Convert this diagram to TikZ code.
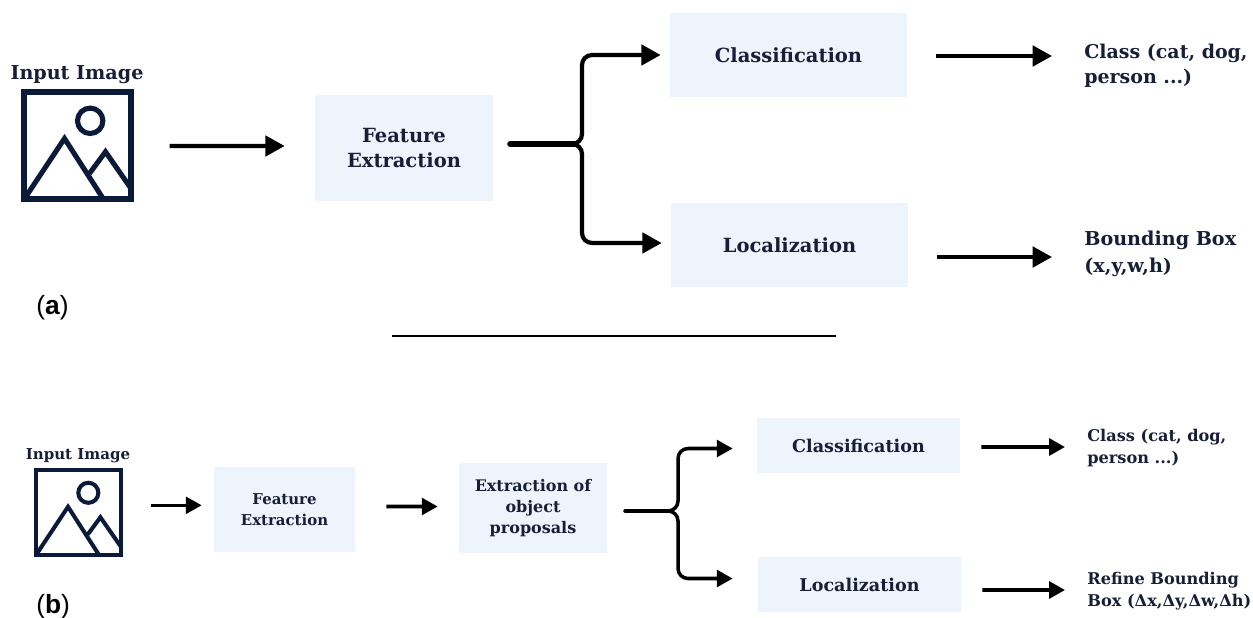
\documentclass[tikz,border=0pt]{standalone}
\usepackage{fontspec}
\usepackage{tikz}
\usepackage{xcolor}
\usetikzlibrary{arrows.meta,calc}
\setmainfont{DejaVu Serif}
\setsansfont{Liberation Sans}
\definecolor{boxblue}{HTML}{EEF4FB}
\definecolor{inkblue}{HTML}{161F36}
\definecolor{iconblue}{HTML}{0C1A3A}
\newcommand{\fsize}[2]{\fontsize{#1}{#2}\selectfont\bfseries}

\tikzset{
	mountains/.pic={
		\draw (12.7,-24.7) circle (12.7);
		\draw (-53.3,53.7) -- (-13,-7) -- (26,53.7);
		\draw (12,28) -- (28,6.3) -- (53.5,43);
	}
}

\begin{document}
\begin{tikzpicture}[x=0.02cm,y=-0.02cm]
	\useasboundingbox (0,0) rectangle (1253,618);
	\tikzstyle{box}=[fill=boxblue,inner sep=0pt,align=center,text=inkblue]
	\tikzstyle{result}=[anchor=west,inner sep=0pt,align=left,text=inkblue]
	\tikzstyle{caption}=[anchor=west,inner sep=0pt,font=\sffamily\fontsize{15}{18}\selectfont]
	\tikzstyle{bigarrow}=[line width=2.4pt,-{Triangle[length=11pt,width=11.5pt]}]
	\tikzstyle{smallarrow}=[line width=2pt,-{Triangle[length=9pt,width=9.5pt]}]

	% upper pipeline
	\node[draw=iconblue,line width=2.9pt,minimum size=2.14cm,inner sep=0pt] (imga) at (77.5,145.5) {};
	\pic[iconblue,line width=2.9pt] at (imga.center) {mountains};
	\node[anchor=south,inner sep=0pt,text=inkblue,font=\fsize{10.9}{14}] (inputa) at (77,84) {Input Image};
	\node[box,minimum width=3.56cm,minimum height=2.12cm,font=\fsize{11.1}{14.5}] (feata) at (404,148) {Feature\\Extraction};
	\node[box,minimum width=4.74cm,minimum height=1.68cm,font=\fsize{11.1}{14.5}] (clsa) at (788.5,55) {Classification};
	\node[box,minimum width=4.74cm,minimum height=1.68cm,font=\fsize{11.1}{14.5}] (loca) at (789.5,245) {Localization};
	\node[result,font=\fsize{10.8}{14}] (clsouta) at (1084,66) {Class (cat, dog,\\person ...)};
	\node[result,font=\fsize{10.9}{15}] (locouta) at (1084,254) {Bounding Box\\(x,y,w,h)};
	\node[caption] (capa) at (36,308) {(\textbf{a})};

	\draw[bigarrow] ($(imga.east)+(36,0.5)$) -- ($(feata.west)+(-30,-2)$);
	\coordinate (splita) at (582,144);
	\draw[line width=3.6pt,line cap=round] ($(feata.east)+(17,-4)$) -- ($(splita)+(-6,0)$);
	\draw[bigarrow,rounded corners=0.2cm] ($(splita)+(-10,0)$) -- (splita) -- (splita |- clsa) -- ($(clsa.west)+(-9,0)$);
	\draw[bigarrow,rounded corners=0.2cm] ($(splita)+(-10,0)$) -- (splita) -- ($(splita |- loca)+(0,-2)$) -- ($(loca.west)+(-9,-2)$);
	\draw[bigarrow] ($(clsa.east)+(29,1)$) -- ($(clsouta.west)+(-32,-10)$);
	\draw[bigarrow] ($(loca.east)+(29,12)$) -- ($(locouta.west)+(-32,3)$);

	% divider
	\coordinate (rulel) at (392,336);
	\coordinate (ruler) at (836,336);
	\draw[line width=1.1pt] (rulel) -- (ruler);

	% lower pipeline
	\node[draw=iconblue,line width=2.3pt,minimum size=1.69cm,inner sep=0pt] (imgb) at (78.3,512.3) {};
	\pic[iconblue,line width=2.3pt,scale=0.79] at (imgb.center) {mountains};
	\node[anchor=south,inner sep=0pt,text=inkblue,font=\fsize{8.55}{12}] (inputb) at (78,463) {Input Image};
	\node[box,minimum width=2.82cm,minimum height=1.7cm,font=\fsize{8.5}{12}] (featb) at (284.5,509.5) {Feature\\Extraction};
	\node[box,minimum width=2.96cm,minimum height=1.8cm,font=\fsize{9.1}{12}] (propb) at (533,508) {Extraction of\\object\\proposals};
	\node[box,minimum width=4.06cm,minimum height=1.1cm,font=\fsize{10}{12}] (clsb) at (858.5,445.5) {Classification};
	\node[box,minimum width=4.06cm,minimum height=1.1cm,font=\fsize{10}{12}] (locb) at (859.5,584.5) {Localization};
	\node[result,font=\fsize{9.2}{12.5}] (clsoutb) at (1087,448) {Class (cat, dog,\\person ...)};
	\node[result,font=\fsize{9.2}{12.5}] (locoutb) at (1087,591.5) {Refine Bounding\\Box (Δx,Δy,Δw,Δh)};
	\node[caption] (capb) at (36,607) {(\textbf{b})};

	\draw[smallarrow] ($(imgb.east)+(28,-7)$) -- ($(featb.west)+(-12,-4.2)$);
	\draw[smallarrow] ($(featb.east)+(31,-3)$) -- ($(propb.west)+(-21,-1.5)$);
	\coordinate (splitb) at (678,511);
	\draw[line width=2.4pt,line cap=round] ($(propb.east)+(18,3)$) -- ($(splitb)+(-6,0)$);
	\draw[smallarrow,rounded corners=0.2cm] ($(splitb)+(-10,0)$) -- (splitb) -- ($(splitb |- clsb)+(0,3)$) -- ($(clsb.west)+(-24,3)$);
	\draw[smallarrow,rounded corners=0.2cm] ($(splitb)+(-10,0)$) -- (splitb) -- ($(splitb |- locb)+(0,-6)$) -- ($(locb.west)+(-25,-6)$);
	\draw[smallarrow] ($(clsb.east)+(21,1.5)$) -- ($(clsoutb.west)+(-22,-1)$);
	\draw[smallarrow] ($(locb.east)+(21,5.5)$) -- ($(locoutb.west)+(-22,-1.5)$);
\end{tikzpicture}
\end{document}
